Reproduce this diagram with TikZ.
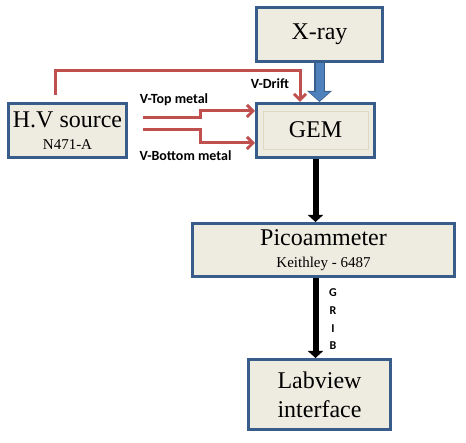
\documentclass[tikz,border=0pt]{standalone}
\usepackage{fontspec}
\setmainfont{Liberation Serif}
\newfontfamily\labelfont{Carlito}
\usetikzlibrary{arrows.meta}
\definecolor{boxfill}{HTML}{EEECE1}
\definecolor{boxline}{HTML}{385D8A}
\definecolor{wire}{HTML}{C0504D}
\definecolor{beam}{HTML}{4F81BD}
\definecolor{gemline}{HTML}{DDD9C3}
\begin{document}
\begin{tikzpicture}[x=1pt,y=-1pt,
    box/.style={draw=boxline,fill=boxfill,line width=3pt,align=center,inner sep=0pt,
      font=\rmfamily\fontsize{24}{22}\selectfont},
    wirelbl/.style={inner sep=0pt,font=\labelfont\bfseries\fontsize{14}{14}\selectfont},
    wire/.style={draw=wire,line width=3pt,-{Straight Barb[length=6pt,width=12pt]}},
    signal/.style={draw=black,line width=6pt,-{Triangle[length=7pt,width=15pt]}}]
  \useasboundingbox (0,0) rectangle (466,443);
  \draw
    (319.5,34.5) node[box,minimum width=126pt,minimum height=54pt] (xray) {X-ray}
    (315.5,130.5) node[box,minimum width=118pt,minimum height=54pt] (gem) {}
    (67.5,130.5) node[box,minimum width=118pt,minimum height=54pt] (hv)
      {H.V source\\{\fontsize{15}{22}\selectfont N471-A}}
    (323.5,250) node[box,minimum width=262pt,minimum height=53pt] (pico)
      {Picoammeter\\{\fontsize{15}{22}\selectfont Keithley - 6487}}
    (319.5,394.5) node[box,minimum width=142pt,minimum height=70pt,
      font=\rmfamily\fontsize{24}{29}\selectfont] (lab) {Labview\\interface};
  \node[draw=gemline,fill=boxfill,line width=0.8pt,minimum width=105pt,minimum height=38pt,
    inner sep=0pt,font=\rmfamily\fontsize{24}{24}\selectfont] (geminner) at (315.5,130) {GEM};
  \coordinate (drift0) at (55,95);
  \coordinate (drift1) at (300,71);
  \coordinate (top0) at (143,118);
  \coordinate (top1) at (200,111);
  \coordinate (bot0) at (143,130);
  \coordinate (bot1) at (200,143);
  \begin{scope}
    \draw[wire] (drift0) |- (drift1) -- (drift1 |- gem.north);
    \draw[wire] (top0) -| (top1) -- (top1 -| gem.west);
    \draw[wire] (bot0) -| (bot1) -- (bot1 -| gem.west);
    \draw[draw=boxline,line width=10.5pt,-{Triangle[length=11pt,width=24pt]}]
      (xray.south) -- (xray.south |- gem.north);
    \draw[draw=beam,fill=beam,line width=8pt,-{Triangle[length=9pt,width=20pt]}]
      (xray.south) -- ([yshift=1pt]xray.south |- gem.north);
    \draw[signal] (gem.south) -- (gem.south |- pico.north);
    \draw[signal] (gem.south |- pico.south) -- (gem.south |- lab.north);
  \end{scope}
  \node[wirelbl] (driftlbl) at (270,84) {V-Drift};
  \node[wirelbl] (toplbl) at (174,100) {V-Top metal};
  \node[wirelbl] (botlbl) at (185.5,156) {V-Bottom metal};
  \node[align=center,inner sep=0pt,font=\labelfont\bfseries\fontsize{12}{17.7}\selectfont] (grib)
    at (333,319.5) {G\\R\\I\\B};
\end{tikzpicture}
\end{document}
